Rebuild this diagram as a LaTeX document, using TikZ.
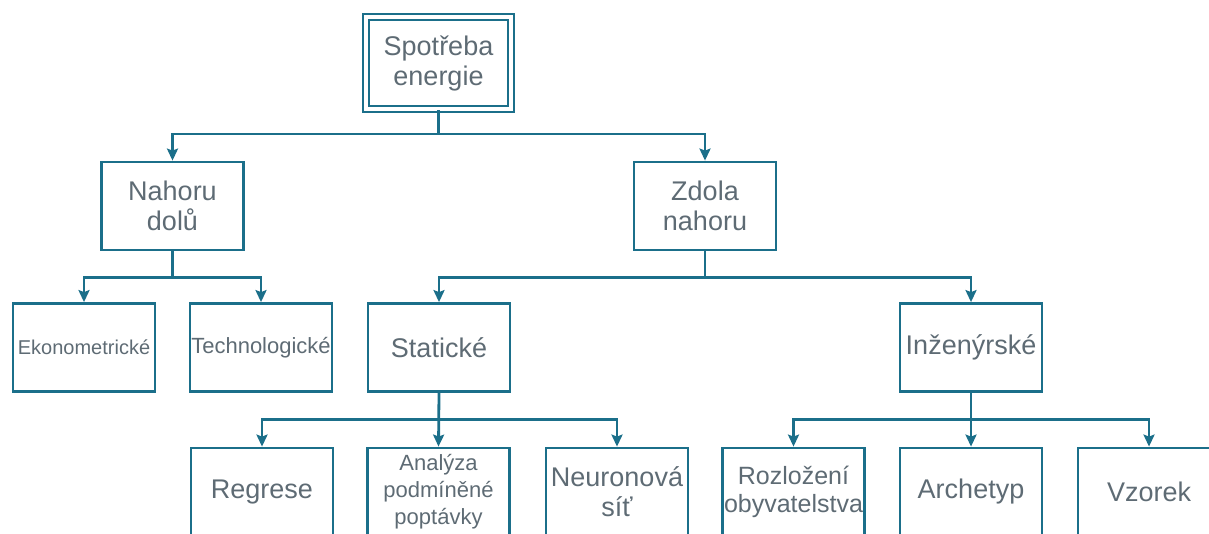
\documentclass[tikz,border=0pt]{standalone}
\usepackage{fontspec}
\setmainfont{Liberation Sans}
\usetikzlibrary{arrows.meta}
\definecolor{boxline}{HTML}{1B6F8A}
\definecolor{boxtext}{HTML}{5E6B74}

\begin{document}
\begin{tikzpicture}[x=1pt, y=-1pt, >={Stealth[width=11pt,length=12pt,inset=2pt]},
    box/.style={draw=boxline, line width=2.8pt, text=boxtext, align=center, inner sep=0pt,
        minimum width=142pt, minimum height=88pt, font=\fontsize{27}{30}\selectfont},
    link/.style={->, draw=boxline, line width=2.8pt}]

    \useasboundingbox (0,0) rectangle (1209,533);

    \node[box, double=white, double distance=3.5pt, line width=2pt,
        minimum width=145pt, minimum height=92pt] (spotreba) at (438.5,63) {Spotřeba\\energie};

    \node[box] (shora) at (172.5,206) {Nahoru\\dolů};
    \node[box] (zdola) at (705,206) {Zdola\\nahoru};

    \node[box, font=\fontsize{20}{24}\selectfont] (ekon) at (84,347.5) {Ekonometrické};
    \node[box, font=\fontsize{22}{26}\selectfont] (tech) at (261,347.5) {Technologické};
    \node[box] (stat) at (439,347.5) {Statické};
    \node[box] (inzen) at (971,347.5) {Inženýrské};

    \node[box] (regrese) at (262,492) {Regrese};
    \node[box, font=\fontsize{22}{27}\selectfont] (analyza) at (438.5,492) {Analýza\\podmíněné\\poptávky};
    \node[box] (neuro) at (617,492) {Neuronová\\síť};
    \node[box, font=\fontsize{25}{28}\selectfont] (rozlozeni) at (793.5,492) {Rozložení\\obyvatelstva};
    \node[box] (archetyp) at (971,492) {Archetyp};
    \node[box] (vzorek) at (1149,492) {Vzorek};

    \draw[link] (spotreba.south) -- ++(0,24) -| (shora.north);
    \draw[link] (spotreba.south) -- ++(0,24) -| (zdola.north);

    \draw[link] (shora.south) -- ++(0,26) -| (ekon.north);
    \draw[link] (shora.south) -- ++(0,26) -| (tech.north);
    \draw[link] (zdola.south) -- ++(0,26) -| (stat.north);
    \draw[link] (zdola.south) -- ++(0,26) -| (inzen.north);

    \draw[link] (stat.south) -- ++(0,26.5) -| (regrese.north);
    \draw[link] (stat.south) -- (analyza.north);
    \draw[link] (stat.south) -- ++(0,26.5) -| (neuro.north);
    \draw[link] (inzen.south) -- ++(0,26.5) -| (rozlozeni.north);
    \draw[link] (inzen.south) -- (archetyp.north);
    \draw[link] (inzen.south) -- ++(0,26.5) -| (vzorek.north);

\end{tikzpicture}
\end{document}
